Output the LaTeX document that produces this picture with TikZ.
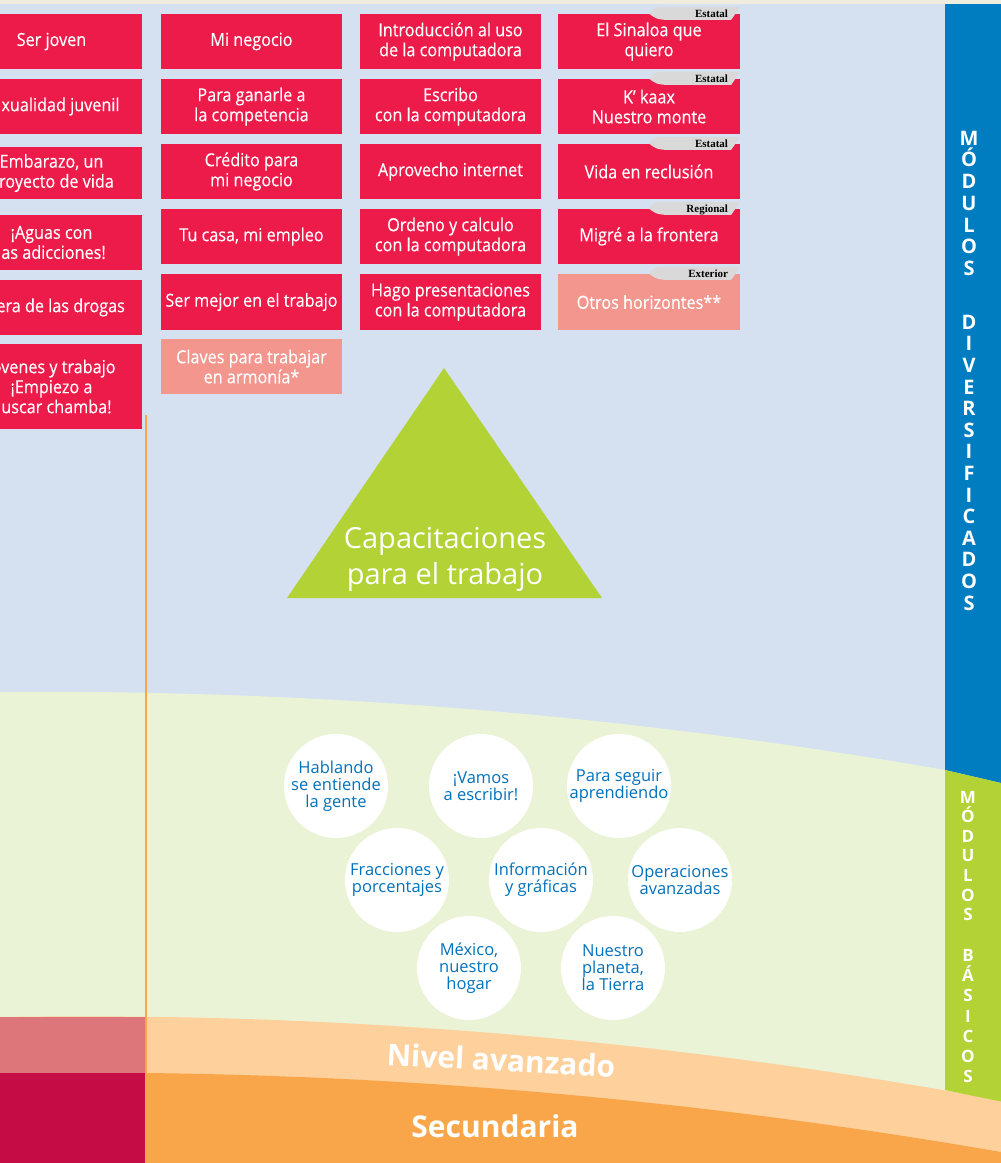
\documentclass[tikz,border=0pt]{standalone}
\usepackage{fontspec}
\setmainfont{Open Sans}
\newfontfamily\condfont[FakeStretch=0.9,FakeBold=0.3]{Open Sans}
\newfontfamily\tabfont{Liberation Serif}
\usetikzlibrary{calc}
\definecolor{bgblue}{RGB}{213,225,240}
\definecolor{cream}{RGB}{240,236,222}
\definecolor{bggreen}{RGB}{235,243,215}
\definecolor{peach}{RGB}{253,208,156}
\definecolor{orangeb}{RGB}{249,166,74}
\definecolor{pinkl}{RGB}{220,118,122}
\definecolor{crimson}{RGB}{198,12,69}
\definecolor{barblue}{RGB}{0,125,192}
\definecolor{limeg}{RGB}{178,210,53}
\definecolor{modred}{RGB}{237,27,73}
\definecolor{modpale}{RGB}{243,150,141}
\definecolor{circblue}{RGB}{0,114,188}
\definecolor{tabgray}{RGB}{217,217,217}
\begin{document}
\begin{tikzpicture}[x=1pt,y=-1pt,
  redbox/.style={fill=modred, text=white, minimum width=181pt, minimum height=55pt,
    inner sep=0pt, align=center, font=\condfont\fontsize{18}{20}\selectfont},
  palebox/.style={redbox, fill=modpale},
  circ/.style={circle, fill=white, minimum size=104pt, inner sep=0pt, align=center,
    text=circblue, font=\fontsize{16.5}{17}\selectfont},
  tablabel/.style={font=\tabfont\bfseries\fontsize{11}{11}\selectfont, text=black, inner sep=0pt, anchor=base east},
  tabshape/.style={fill=tabgray},
  vletd/.style={text=white, inner sep=0pt, anchor=base, font=\bfseries\fontsize{20}{20}\selectfont},
  vletb/.style={text=white, inner sep=0pt, anchor=base, font=\bfseries\fontsize{17}{17}\selectfont},
  bandtxt/.style={text=white, inner sep=0pt, font=\bfseries\fontsize{30}{30}\selectfont}
]
\useasboundingbox (0,0) rectangle (1001,1163);
\clip (0,0) rectangle (1001,1163);

% backgrounds
\fill[bgblue] (0,0) rectangle (1001,1163);
\fill[cream] (0,0) rectangle (1001,4);
\fill[bggreen] (0,692) .. controls (333.7,689.1) and (667.3,718.5) .. (1001,780) -- (1001,1163) -- (0,1163) -- cycle;
\fill[peach] (0,1017) .. controls (333.7,1011.5) and (667.3,1039.3) .. (1001,1100.3) -- (1001,1163) -- (0,1163) -- cycle;
\fill[orangeb] (0,1073.3) .. controls (333.7,1068.0) and (667.3,1094.2) .. (1001,1152) -- (1001,1163) -- (0,1163) -- cycle;
\fill[pinkl] (0,1017) rectangle (146,1073);
\fill[crimson] (0,1073) rectangle (146,1163);

% side bars
\fill[barblue] (945,4) -- (1001,4) -- (1001,783) -- (945,770) -- cycle;
\fill[limeg] (945,770) -- (1001,783) -- (1001,1101.5) -- (945,1090) -- cycle;

% vertical separator
\coordinate (vtop) at (146,415);
\coordinate (vbot) at (146,1163);
\draw[orangeb, line width=2.5pt] (vtop) -- (vbot);

% column 1
\node[redbox] (c1r1) at (51.5,41.5) {Ser joven};
\node[redbox] (c1r2) at (51.5,106.5) {\phantom{Se}xualidad juvenil};
\node[redbox, minimum height=52pt] (c1r3) at (51.5,173) {Embarazo, un\\\phantom{p}royecto de vida};
\node[redbox] (c1r4) at (51.5,242.5) {¡Aguas con\\\phantom{l}as adicciones!};
\node[redbox] (c1r5) at (51.5,307.5) {\phantom{Fu}era de las drogas};
\node[redbox, minimum height=85pt] (c1r6) at (51.5,386.5) {\phantom{J}ovenes y trabajo\\¡Empiezo a\\\phantom{b}uscar chamba!};

% column 2
\node[redbox] (c2r1) at (251.5,41.5) {Mi negocio};
\node[redbox] (c2r2) at (251.5,106.5) {Para ganarle a\\la competencia};
\node[redbox] (c2r3) at (251.5,171.5) {Crédito para\\mi negocio};
\node[redbox] (c2r4) at (251.5,236.5) {Tu casa, mi empleo};
\node[redbox, minimum height=56pt] (c2r5) at (251.5,302) {Ser mejor en el trabajo};
\node[palebox] (c2r6) at (251.5,366.5) {Claves para trabajar\\en armonía*};

% column 3
\node[redbox] (c3r1) at (450.5,41.5) {Introducción al uso\\de la computadora};
\node[redbox] (c3r2) at (450.5,106.5) {Escribo\\con la computadora};
\node[redbox] (c3r3) at (450.5,171.5) {Aprovecho internet};
\node[redbox] (c3r4) at (450.5,236.5) {Ordeno y calculo\\con la computadora};
\node[redbox, minimum height=56pt] (c3r5) at (450.5,302) {Hago presentaciones\\con la computadora};

% column 4
\node[redbox, minimum width=182pt] (c4r1) at (649,41.5) {El Sinaloa que\\quiero};
\node[redbox, minimum width=182pt] (c4r2) at (649,106.5) {K’ kaax\\Nuestro monte};
\node[redbox, minimum width=182pt] (c4r3) at (649,171.5) {Vida en reclusión};
\node[redbox, minimum width=182pt] (c4r4) at (649,236.5) {Migré a la frontera};
\node[palebox, minimum width=182pt, minimum height=56pt] (c4r5) at (649,302) {Otros horizontes**};

% tabs
\foreach \b/\lab in {c4r1/Estatal, c4r2/Estatal, c4r3/Estatal, c4r4/Regional, c4r5/Exterior}{
  \begin{scope}[shift={(\b.north east)}]
    \fill[tabshape] (-91,0) .. controls (-87,-6) .. (-78,-7) -- (-4,-7)
      .. controls (0,-7) .. (-2,-4) -- (-9,6) -- (-76,6) .. controls (-84,5) .. (-91,0) -- cycle;
    \node[tablabel] (tab-\b) at (-12,3.5) {\lab};
  \end{scope}
}

% triangle
\fill[limeg] (444,368) -- (602,598) -- (287,598) -- cycle;
\node[text=white, align=center, inner sep=0pt, font=\fontsize{29}{36}\selectfont] (captxt) at (445,559) {Capacitaciones\\para el trabajo};

% circles
\node[circ] (ci1) at (336,786) {Hablando\\se entiende\\la gente};
\node[circ] (ci2) at (481,786) {¡Vamos\\a escribir!};
\node[circ] (ci3) at (619,786) {Para seguir\\aprendiendo};
\node[circ] (ci4) at (397,880) {Fracciones y\\porcentajes};
\node[circ] (ci5) at (541,880) {Información\\y gráficas};
\node[circ] (ci6) at (680,880) {Operaciones\\avanzadas};
\node[circ] (ci7) at (469,968) {México,\\nuestro\\hogar};
\node[circ] (ci8) at (613,968) {Nuestro\\planeta,\\la Tierra};

% band labels
\node[bandtxt, rotate=-3] (niv) at (501,1060) {Nivel avanzado};
\node[bandtxt] (sec) at (495,1126) {Secundaria};

% vertical texts
\foreach \l/\y [count=\i] in {M/138,Ó/159.7,D/181.4,U/203.1,L/224.8,O/246.5,S/268.2,
  D/322,I/343.6,V/365.2,E/386.8,R/408.4,S/430,I/451.6,F/473.2,I/494.8,C/516.4,A/538,D/559.6,O/581.2,S/602.8}{
  \node[vletd] (vd\i) at (969,\y+7.2) {\l};
}
\foreach \l/\y [count=\i] in {M/797,Ó/816.6,D/836.2,U/855.8,L/875.4,O/895,S/914.6,
  B/955,Á/975.3,S/995.6,I/1015.9,C/1036.2,O/1056.5,S/1076.8}{
  \node[vletb] (vb\i) at (968,\y+6.1) {\l};
}
\end{tikzpicture}
\end{document}
